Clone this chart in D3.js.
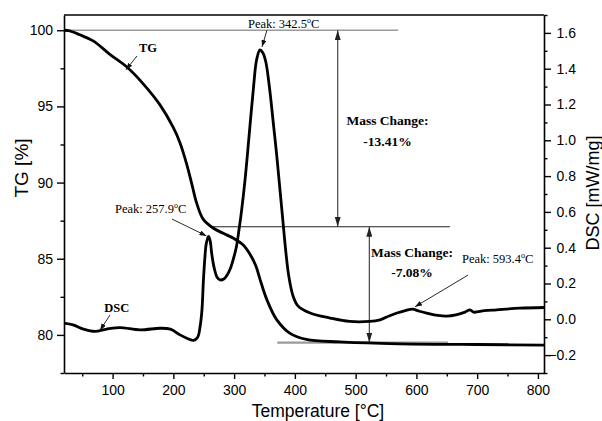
<!DOCTYPE html>
<html>
<head>
<meta charset="utf-8">
<script src="https://cdn.jsdelivr.net/npm/d3@7"></script>
<style>
  html, body { margin: 0; padding: 0; background: #fff; }
  svg { display: block; }
</style>
</head>
<body>
<svg id="chart" width="602" height="421"></svg>
<script>
// TG curve (mass %)
const tgTemp = [20, 30, 46, 68, 96, 123, 150, 178, 200, 211, 222, 231, 238, 249, 266, 282, 299, 315, 329, 336, 343, 354, 370, 392, 419, 474, 556, 650, 700, 810];
const tgMass = [100, 99.95, 99.7, 99.3, 98.4, 97.6, 96.5, 95.1, 93.6, 92.6, 91.2, 89.8, 88.7, 87.6, 87.0, 86.67, 86.34, 85.9, 85.1, 84.5, 83.6, 82.3, 81.0, 80.1, 79.7, 79.54, 79.43, 79.38, 79.37, 79.33];

// DSC curve (mW/mg)
const dscTemp = [20, 35, 52, 71, 90, 112, 145, 178, 195, 211, 225, 233, 240, 244, 247, 249.5, 252, 254, 257.9, 260.5, 263, 267, 272, 277, 283, 288, 294, 299, 304, 308, 312, 318, 324.5, 332, 337, 342.5, 347, 352, 358, 365, 370, 375, 380, 385, 390, 397, 405, 425, 458, 490, 523, 540, 556, 568, 583, 593.4, 605, 617, 635, 650, 665, 680, 688, 694, 712, 732, 770, 810];
const dscFlow = [-0.021, -0.031, -0.055, -0.068, -0.055, -0.046, -0.059, -0.05, -0.055, -0.087, -0.11, -0.118, -0.1, -0.04, 0.05, 0.22, 0.35, 0.42, 0.463, 0.44, 0.37, 0.29, 0.235, 0.22, 0.225, 0.245, 0.285, 0.34, 0.41, 0.5, 0.6, 0.78, 1.02, 1.3, 1.45, 1.505, 1.49, 1.44, 1.3, 1.08, 0.92, 0.74, 0.56, 0.38, 0.24, 0.13, 0.075, 0.035, 0.007, -0.012, -0.012, -0.003, 0.02, 0.035, 0.05, 0.057, 0.045, 0.035, 0.022, 0.018, 0.025, 0.04, 0.053, 0.04, 0.048, 0.053, 0.062, 0.066];

const xTicks = [100, 200, 300, 400, 500, 600, 700, 800];
const xMinor = [50, 150, 250, 350, 450, 550, 650, 750];
const tgTicks = [80, 85, 90, 95, 100];
const tgMinor = [77.5, 82.5, 87.5, 92.5, 97.5];
const dscTicks = [-0.2, 0, 0.2, 0.4, 0.6, 0.8, 1.0, 1.2, 1.4, 1.6];
const dscMinor = [-0.3, -0.1, 0.1, 0.3, 0.5, 0.7, 0.9, 1.1, 1.3, 1.5, 1.7];

// mass-loss steps drawn as guide lines
const massLevels = [100, 87.1, 79.5];
const massLabels = ["-13.41%", "-7.08%"];
const peakTemps = ["342.5", "257.9", "593.4"];

const W = 602, H = 421;
const m = { l: 64, r: 58, t: 15, b: 48 };
const sans = "'Liberation Sans', Arial, Helvetica, sans-serif";
const serif = "'Liberation Serif', 'Times New Roman', Times, serif";

const svg = d3.select("#chart");
const x = d3.scaleLinear().domain([20, 810]).range([m.l, W - m.r]);
const yTG = d3.scaleLinear().domain([77.5, 101]).range([H - m.b, m.t]);
const yDSC = d3.scaleLinear().domain([-0.3, 1.7]).range([H - m.b, m.t]);

const defs = svg.append("defs");
function arrowMarker(id, len, wid, color) {
  defs.append("marker")
    .attr("id", id)
    .attr("viewBox", `0 0 ${len} ${wid}`)
    .attr("refX", len).attr("refY", wid / 2)
    .attr("markerWidth", len).attr("markerHeight", wid)
    .attr("markerUnits", "userSpaceOnUse")
    .attr("orient", "auto-start-reverse")
    .append("path")
    .attr("d", `M0,0L${len},${wid / 2}L0,${wid}Z`)
    .attr("fill", color);
}
arrowMarker("bigArrow", 10, 6, "#222");
arrowMarker("smallArrow", 7, 5, "#111");

// axes
function styleAxis(g) {
  g.selectAll("path.domain").attr("stroke", "#000").attr("stroke-width", 1.6);
  g.selectAll(".tick line").attr("stroke", "#000").attr("stroke-width", 1.4);
  g.selectAll(".tick text").attr("font-family", sans).attr("font-size", 14).attr("fill", "#000");
}

const gx = svg.append("g").attr("transform", `translate(0,${H - m.b})`)
  .call(d3.axisBottom(x).tickValues(xTicks).tickSize(6).tickSizeOuter(0).tickPadding(6));
styleAxis(gx);
const gxm = svg.append("g").attr("transform", `translate(0,${H - m.b})`)
  .call(d3.axisBottom(x).tickValues(xMinor).tickSize(3.5).tickFormat(""));
gxm.select("path.domain").remove();
styleAxis(gxm);

const gl = svg.append("g").attr("transform", `translate(${m.l},0)`)
  .call(d3.axisLeft(yTG).tickValues(tgTicks).tickSize(7).tickSizeOuter(0).tickPadding(4));
styleAxis(gl);
const glm = svg.append("g").attr("transform", `translate(${m.l},0)`)
  .call(d3.axisLeft(yTG).tickValues(tgMinor).tickSize(3.5).tickFormat(""));
glm.select("path.domain").remove();
styleAxis(glm);

const gr = svg.append("g").attr("transform", `translate(${W - m.r},0)`)
  .call(d3.axisRight(yDSC).tickValues(dscTicks).tickSize(7).tickSizeOuter(0).tickPadding(4)
    .tickFormat(d3.format(".1f")));
styleAxis(gr);
// digits line up on the right edge, minus sign hangs out to the left
gr.selectAll(".tick text").attr("text-anchor", "end").attr("x", 32);
const grm = svg.append("g").attr("transform", `translate(${W - m.r},0)`)
  .call(d3.axisRight(yDSC).tickValues(dscMinor).tickSize(3.5).tickFormat(""));
grm.select("path.domain").remove();
styleAxis(grm);

svg.append("line")
  .attr("x1", m.l).attr("x2", W - m.r)
  .attr("y1", m.t).attr("y2", m.t)
  .attr("stroke", "#000").attr("stroke-width", 1.6);

// axis titles
svg.append("text")
  .attr("x", 318).attr("y", 416.5)
  .attr("text-anchor", "middle")
  .attr("font-family", sans).attr("font-size", 17.5)
  .text("Temperature [°C]");
svg.append("text")
  .attr("transform", "translate(28,168) rotate(-90)")
  .attr("text-anchor", "middle")
  .attr("font-family", sans).attr("font-size", 19)
  .text("TG [%]");
svg.append("text")
  .attr("transform", "translate(599,193) rotate(-90)")
  .attr("text-anchor", "middle")
  .attr("font-family", sans).attr("font-size", 18)
  .text("DSC [mW/mg]");

// guide lines for the mass steps
const guides = [
  { t0: 20, t1: 570, v: massLevels[0], color: "#9a9a9a", w: 1.3 },
  { t0: 262.5, t1: 655, v: massLevels[1], color: "#222", w: 1 },
  { t0: 371, t1: 652, v: massLevels[2], color: "#9a9a9a", w: 2.2 }
];
svg.append("g").selectAll("line").data(guides).join("line")
  .attr("x1", d => x(d.t0)).attr("x2", d => x(d.t1))
  .attr("y1", d => yTG(d.v)).attr("y2", d => yTG(d.v))
  .attr("stroke", d => d.color).attr("stroke-width", d => d.w);

const spans = [
  { t: 470.5, v0: massLevels[1], v1: massLevels[0] },
  { t: 522.5, v0: massLevels[2], v1: massLevels[1] }
];
svg.append("g").selectAll("line").data(spans).join("line")
  .attr("x1", d => x(d.t)).attr("x2", d => x(d.t))
  .attr("y1", d => yTG(d.v0)).attr("y2", d => yTG(d.v1))
  .attr("stroke", "#333").attr("stroke-width", 1.1)
  .attr("marker-start", "url(#bigArrow)")
  .attr("marker-end", "url(#bigArrow)");

// curves
const line = d3.line().curve(d3.curveCatmullRom.alpha(0.5));
svg.append("path")
  .attr("d", line(tgTemp.map((t, i) => [x(t), yTG(tgMass[i])])))
  .attr("fill", "none").attr("stroke", "#000").attr("stroke-width", 2.8)
  .attr("stroke-linejoin", "round");
svg.append("path")
  .attr("d", line(dscTemp.map((t, i) => [x(t), yDSC(dscFlow[i])])))
  .attr("fill", "none").attr("stroke", "#000").attr("stroke-width", 2.8)
  .attr("stroke-linejoin", "round");

// mass change labels
const massText = [
  { t: 552.4, v: 93.78, v2: 92.4, s: massLabels[0] },
  { t: 592.7, v: 85.13, v2: 83.82, s: massLabels[1] }
];
massText.forEach(d => {
  svg.append("text").attr("x", x(d.t)).attr("y", yTG(d.v))
    .attr("text-anchor", "middle").attr("font-family", serif)
    .attr("font-weight", "bold").attr("font-size", 13.5)
    .text("Mass Change:");
  svg.append("text").attr("x", x(d.t)).attr("y", yTG(d.v2))
    .attr("text-anchor", "middle").attr("font-family", serif)
    .attr("font-weight", "bold").attr("font-size", 13.5)
    .text(d.s);
});

// peak labels (positions in data units) with pointer arrows
function pointer(p0, p1) {
  svg.append("line")
    .attr("x1", p0[0]).attr("y1", p0[1]).attr("x2", p1[0]).attr("y2", p1[1])
    .attr("stroke", "#111").attr("stroke-width", 0.9)
    .attr("marker-end", "url(#smallArrow)");
}
function peakLabel(px, py, temp) {
  const t = svg.append("text").attr("x", px).attr("y", py)
    .attr("font-family", serif).attr("font-size", 12.5).attr("fill", "#000");
  t.append("tspan").text("Peak: " + temp);
  t.append("tspan").attr("font-size", 8).attr("dy", -5).text("o");
  t.append("tspan").attr("dy", 5).text("C");
}

peakLabel(x(322.8), yDSC(1.625), peakTemps[0]);
pointer([x(354), yDSC(1.615)], [x(345.9), yDSC(1.522)]);

peakLabel(x(103.9), yDSC(0.594), peakTemps[1]);
pointer([x(197.7), yDSC(0.56)], [x(254.5), yDSC(0.466)]);

peakLabel(x(675), yDSC(0.315), peakTemps[2]);
pointer([x(685), yDSC(0.247)], [x(597.7), yDSC(0.07)]);

// curve names
svg.append("text").attr("x", x(143.4)).attr("y", yTG(98.55))
  .attr("font-family", serif).attr("font-weight", "bold").attr("font-size", 12.5)
  .text("TG");
pointer([x(140.1), yTG(98.31)], [x(122), yTG(97.4)]);

svg.append("text").attr("x", x(86.3)).attr("y", yDSC(0.042))
  .attr("font-family", serif).attr("font-weight", "bold").attr("font-size", 12.5)
  .text("DSC");
pointer([x(95.7), yDSC(0.024)], [x(79.2), yDSC(-0.062)]);
</script>
</body>
</html>
